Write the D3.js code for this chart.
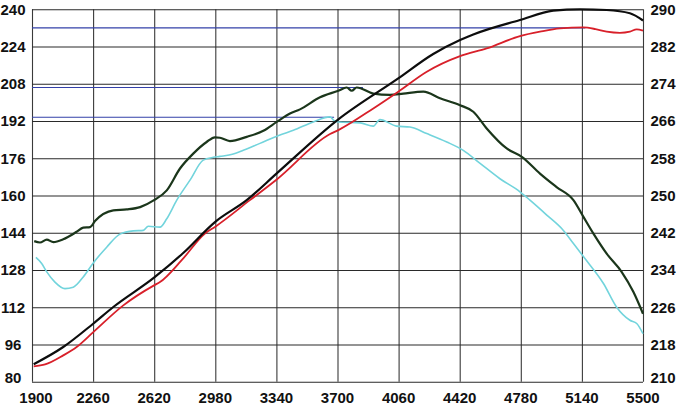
<!DOCTYPE html>
<html><head><meta charset="utf-8">
<script src="https://cdn.jsdelivr.net/npm/d3@7"></script>
<style>
html,body{margin:0;padding:0;background:#fff;}
svg text{font-family:"Liberation Sans",Arial,sans-serif;font-weight:bold;font-size:15px;fill:#111;}
</style></head>
<body><svg id="c" width="679" height="406"></svg>
<script>
// ---- data ----
const rpmTicks = [1900,2260,2620,2980,3340,3700,4060,4420,4780,5140,5500];
const hpTicks = [80,96,112,128,144,160,176,192,208,224,240];
const tqTicks = [210,218,226,234,242,250,258,266,274,282,290];

// HP curves (left axis)
const hpBlack = [[1910,87.5],[2084,94.9],[2260,104.9],[2379,112.1],[2619,124.7],[2791,135.3],[2978,148.6],[3165,158],[3342,169.5],[3705,192.7],[4058,210.3],[4264,220.8],[4422,226.8],[4500,229.2],[4775,235.4],[4971,239.4],[5129,240],[5286,239.7],[5423,238.3],[5500,235.2]];
const hpRed = [[1910,86.6],[1977,87.4],[2084,91.3],[2163,94.9],[2261,101.3],[2438,112.8],[2619,121.4],[2654,122.8],[2782,132.2],[2919,143.7],[2978,146.5],[3184,158],[3342,166.9],[3656,186.4],[3705,188.1],[3911,197.4],[4058,204.6],[4226,213.2],[4422,219.9],[4579,223.2],[4775,228.5],[4893,230.4],[5011,231.8],[5149,232.2],[5220,231.5],[5286,230.4],[5364,229.9],[5423,230.4],[5463,231.4],[5500,230.8]];

// Torque curves (right axis)
const tqGreen = [[1913,240.2],[1947,239.9],[1987,240.5],[2026,240],[2084,240.6],[2163,242.2],[2202,243.1],[2242,243.2],[2271,244.5],[2379,246.8],[2458,247],[2537,247.5],[2619,249],[2694,251.1],[2772,255.8],[2850,259],[2929,261.5],[2978,262.5],[3007,262.4],[3066,261.7],[3165,262.6],[3263,263.9],[3342,265.8],[3420,267.6],[3479,268.5],[3597,271.1],[3705,272.5],[3754,273.2],[3784,272.5],[3813,273.2],[3911,271.9],[4009,271.6],[4088,271.9],[4206,272.3],[4304,270.9],[4422,269.4],[4500,268],[4579,264.4],[4697,260.1],[4786,258.3],[4893,254.7],[4991,251.8],[5090,249],[5149,245.4],[5208,241.8],[5286,237.5],[5374,233.6],[5443,229.3],[5500,224.6]];
const tqCyan = [[1923,236.7],[1957,235.4],[1987,233.6],[2035,231.4],[2094,230],[2143,230.3],[2202,232.5],[2261,235.5],[2340,238.9],[2418,241.7],[2497,242.4],[2556,242.5],[2585,243.4],[2654,243.2],[2694,245],[2753,249],[2831,253.3],[2909,257.6],[2968,258.2],[3007,258.4],[3086,258.9],[3145,259.7],[3243,261.2],[3361,263],[3440,264],[3557,265.8],[3656,266.9],[3676,266.2],[3705,265.8],[3833,265.6],[3911,264.9],[3950,266.3],[4048,264.9],[4127,264.7],[4226,263.3],[4344,261.5],[4441,259.7],[4540,256.9],[4657,253.6],[4775,250.8],[4834,249],[4933,245.8],[5031,242.5],[5090,239.7],[5159,236.4],[5267,231.1],[5345,226],[5423,223.2],[5463,222.5],[5500,220.3]];

// peak reference lines: value, axis, end rpm
const peakValues = [232, 273.2, 266.8];
const peakAxes = ["hp","tq","tq"];
const peakEnds = [5160, 3850, 3680];

// ---- layout ----
const W = 679, H = 406;
const m = {l:32, r:36, t:9.3, b:24.3};
const svg = d3.select("#c");
const x = d3.scaleLinear().domain([1900,5500]).range([m.l, W-m.r]);
const yL = d3.scaleLinear().domain([80,240]).range([H-m.b, m.t]);
const yR = d3.scaleLinear().domain([210,290]).range([H-m.b, m.t]);

// grid
svg.append("g").attr("transform",`translate(0,${H-m.b})`)
  .call(d3.axisBottom(x).tickValues(rpmTicks).tickSize(-(H-m.b-m.t)).tickFormat(""))
  .call(g=>g.select(".domain").remove())
  .selectAll("line").attr("stroke","#3a3a3a").attr("stroke-width",1.1);
svg.append("g").attr("transform",`translate(${m.l},0)`)
  .call(d3.axisLeft(yL).tickValues(hpTicks).tickSize(-(W-m.l-m.r)).tickFormat(""))
  .call(g=>g.select(".domain").remove())
  .selectAll("line").attr("stroke","#2a2a2a").attr("stroke-width",1.1);

// peak reference lines
peakValues.forEach((v,i)=>{
  const yy = peakAxes[i]==="hp" ? yL(v) : yR(v);
  svg.append("line").attr("x1",x(1900)).attr("x2",x(peakEnds[i]))
    .attr("y1",yy).attr("y2",yy).attr("stroke","#3340a8").attr("stroke-width",1.1);
});

// labels
const lab = svg.append("g");
hpTicks.forEach((t,i)=>{
  lab.append("text").attr("x",13).attr("y",yL(t)+(i===0?-4:0)).attr("dy","0.36em")
    .attr("text-anchor","middle").text(t);
});
tqTicks.forEach((t,i)=>{
  lab.append("text").attr("x",663).attr("y",yR(t)+(i===0?-4:0)).attr("dy","0.36em")
    .attr("text-anchor","middle").text(t);
});
rpmTicks.forEach((t,i)=>{
  lab.append("text").attr("x",x(t)+(i===0?4:0)).attr("y",403)
    .attr("text-anchor","middle").text(t);
});

// curves
const lineL = d3.line().x(d=>x(d[0])).y(d=>yL(d[1])).curve(d3.curveMonotoneX);
const lineR = d3.line().x(d=>x(d[0])).y(d=>yR(d[1])).curve(d3.curveMonotoneX);
svg.append("path").datum(tqCyan).attr("d",lineR).attr("fill","none").attr("stroke","#72d4dc").attr("stroke-width",1.6);
svg.append("path").datum(tqGreen).attr("d",lineR).attr("fill","none").attr("stroke","#1b361b").attr("stroke-width",2.2);
svg.append("path").datum(hpRed).attr("d",lineL).attr("fill","none").attr("stroke","#d8202a").attr("stroke-width",1.8);
svg.append("path").datum(hpBlack).attr("d",lineL).attr("fill","none").attr("stroke","#0d0d0d").attr("stroke-width",2.2);
</script></body></html>
